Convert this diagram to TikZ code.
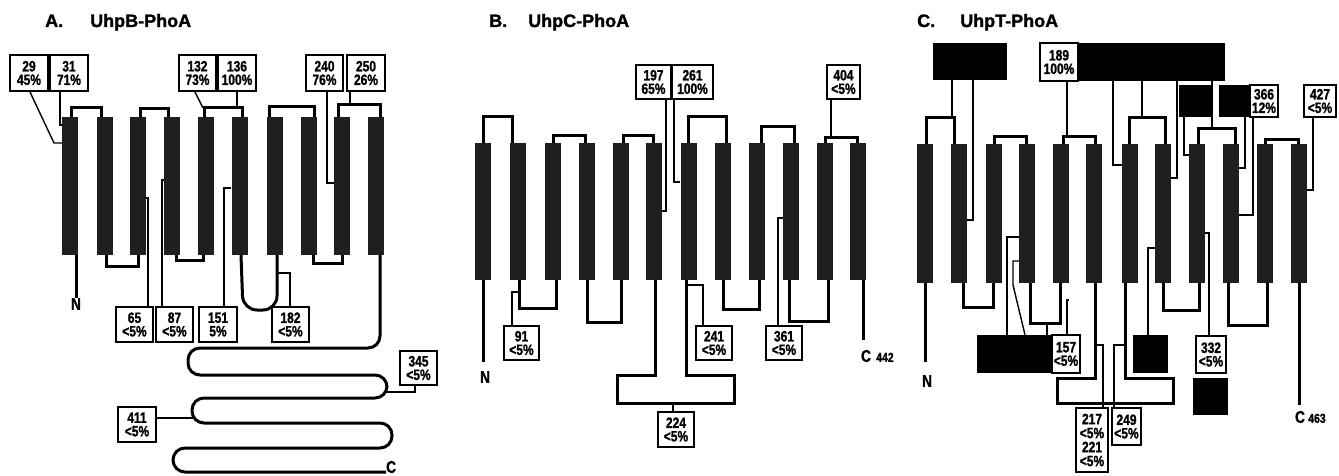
\documentclass[tikz,border=0pt]{standalone}
\usepackage{fontspec}
\setmainfont{Liberation Sans}
\newfontfamily\labfont{Liberation Sans}[FakeStretch=0.8, FakeBold=1.2]
\newfontfamily\ttlfont{Liberation Sans}[FakeBold=1.5]
\tikzset{
  helix/.style={rectangle, fill=black!88, draw=none, inner sep=0pt, minimum width=16pt},
  hA/.style={helix, minimum height=138pt},
  hB/.style={helix, minimum height=137pt},
  hC/.style={helix, minimum height=139pt},
  lp/.style={line width=3pt, line join=miter},
  ln/.style={line width=1.4pt},
  lab/.style={rectangle, draw=black, line width=1.9pt, fill=white, inner sep=0.5pt, align=center,
    font={\labfont\bfseries\fontsize{15}{13.5}\selectfont}},
  blk/.style={rectangle, fill=black, draw=none, inner sep=0pt},
  ttl/.style={inner sep=0pt, anchor=base west, font={\ttlfont\bfseries\fontsize{18}{20}\selectfont}},
  term/.style={inner sep=0pt, font={\labfont\bfseries\fontsize{17}{18}\selectfont}},
  termnum/.style={inner sep=0pt, font={\labfont\bfseries\fontsize{13}{14}\selectfont}},
}
\newcommand\labbox[6]{\node[lab, minimum width={(#4-#2)*1pt}, minimum height={(#5-#3)*1pt}] (#1) at ({(#2+#4)/2},{(#3+#5)/2}) {#6};}
\newcommand\blkbox[5]{\node[blk, minimum width={(#4-#2)*1pt}, minimum height={(#5-#3)*1pt}] (#1) at ({(#2+#4)/2},{(#3+#5)/2}) {};}
\begin{document}
\begin{tikzpicture}[x=1pt, y=-1pt]
\useasboundingbox (0,0) rectangle (1339,476);
\fill[white] (0,0) rectangle (1339,476);

% ---------------- Titles ----------------
\node[ttl] (tA1) at (45,27) {A.};
\node[ttl] (tA2) at (90,27) {UhpB-PhoA};
\node[ttl] (tB1) at (489,27) {B.};
\node[ttl] (tB2) at (528,27) {UhpC-PhoA};
\node[ttl] (tC1) at (917,27) {C.};
\node[ttl] (tC2) at (960,27) {UhpT-PhoA};

% ---------------- Panel A helices ----------------
\foreach \n/\x in {1/70,2/104.5,3/138,4/172,5/205.5,6/239.5,7/275,8/308.5,9/342,10/375.5}
  \node[hA] (a\n) at (\x,186) {};

% terminals A
\node[term] (NA) at (76,304) {N};
\node[term, anchor=west] (CA) at (386,467) {C};

% loops A
\draw[lp] (a1.north -| 71,0) |- (101,108) -- (a2.north -| 101,0);
\draw[lp] (a3.north -| 140,0) |- (168,109) -- (a4.north -| 168,0);
\draw[lp] (a5.north -| 204,0) |- (242,108) -- (a6.north -| 242,0);
\draw[lp] (a7.north -| 269,0) |- (314,107) -- (a8.north -| 314,0);
\draw[lp] (a9.north -| 338,0) |- (380,105) -- (a10.north -| 380,0);
\draw[lp] (a1.south -| 76,0) -- (NA.north -| 76,0);
\draw[lp] (a2.south -| 106,0) |- (138,266) -- (a3.south -| 138,0);
\draw[lp] (a4.south -| 176,0) |- (203,260) -- (a5.south -| 203,0);
\draw[lp, rounded corners=14pt] (a6.south -| 241,0) -- (243,310) -- (277,310) -- (a7.south -| 277,0);
\draw[lp] (a8.south -| 313,0) |- (342,263) -- (a9.south -| 342,0);
\draw[lp, rounded corners=12pt] (a10.south -| 380,0) -- (380,348) -- (188,348) -- (188,375)
  -- (387,375) -- (387,398) -- (192,398) -- (192,423) -- (392,423) -- (392,448)
  -- (173,448) -- (173,472) -- (CA.west |- 0,472);

% labels A
\labbox{L29}{10}{55}{48}{91}{29\\45\%}
\labbox{L31}{50}{55}{88}{91}{31\\71\%}
\labbox{L132}{179}{55}{216}{91}{132\\73\%}
\labbox{L136}{218}{55}{256}{91}{136\\100\%}
\labbox{L240}{306}{55}{343}{91}{240\\76\%}
\labbox{L250}{347}{55}{385}{91}{250\\26\%}
\labbox{L65}{116}{307}{153}{342}{65\\<5\%}
\labbox{L87}{156}{307}{193}{342}{87\\<5\%}
\labbox{L151}{199}{307}{237}{342}{151\\5\%}
\labbox{L182}{272}{307}{309}{342}{182\\<5\%}
\labbox{L345}{400}{351}{437}{385}{345\\<5\%}
\labbox{L411}{118}{407}{156}{442}{411\\<5\%}

% connectors A
\draw[ln] (L29.south -| 30,0) -- (54,143) -- (a1.west |- 0,143);
\draw[ln] (L31.south -| 60,0) |- (a1.west |- 0,125);
\draw[ln] (L132.south -| 195,0) -- (203,108);
\draw[ln] (L136.south -| 237,0) -- (237,108);
\draw[ln] (L240.south -| 327,0) |- (a9.west |- 0,183);
\draw[ln] (L250.south -| 350,0) -- (350,105);
\draw[ln] (a3.east |- 0,198) -| (L65.north -| 148,0);
\draw[ln] (a4.west |- 0,180) -| (L87.north -| 162,0);
\draw[ln] (a6.west |- 0,188) -| (L151.north -| 224,0);
\draw[ln] (277,273) -| (L182.north -| 290,0);
\draw[ln] (L345.south -| 415,0) |- (385,392);
\draw[ln] (L411.east |- 0,418) -- (193,418);

% ---------------- Panel B helices ----------------
\foreach \n/\x in {1/483,2/517.5,3/552.5,4/586.5,5/621,6/654,7/688.5,8/722.5,9/757,10/791,11/825,12/858}
  \node[hB] (b\n) at (\x,211.5) {};

\node[term] (NB) at (485,377) {N};
\node[term] (CB) at (866,356) {C};
\node[termnum, anchor=base west] (CBn) at ([xshift=5pt]CB.base east) {442};
\coordinate (CBend) at (863,340);

\draw[lp] (b1.north -| 483,0) |- (512,117) -- (b2.north -| 512,0);
\draw[lp] (b3.north -| 553,0) |- (585,136) -- (b4.north -| 585,0);
\draw[lp] (b5.north -| 623,0) |- (653,136) -- (b6.north -| 653,0);
\draw[lp] (b7.north -| 688,0) |- (726,117) -- (b8.north -| 726,0);
\draw[lp] (b9.north -| 761,0) |- (794,127) -- (b10.north -| 794,0);
\draw[lp] (b11.north -| 825,0) |- (857,138) -- (b12.north -| 857,0);
\draw[lp] (b1.south -| 483,0) -- (483,362);
\draw[lp] (b2.south -| 519,0) |- (556,308) -- (b3.south -| 556,0);
\draw[lp] (b4.south -| 587,0) |- (621,322) -- (b5.south -| 621,0);
\draw[lp] (b6.south -| 655,0) -- (655,375) -- (617,375) -- (617,403) -- (734,403) -- (734,375) -- (686,375) -- (b7.south -| 686,0);
\draw[lp] (b8.south -| 723,0) |- (759,309) -- (b9.south -| 759,0);
\draw[lp] (b10.south -| 789,0) |- (828,321) -- (b11.south -| 828,0);
\draw[lp] (b12.south -| 863,0) -- (CBend);

\labbox{L197}{636}{65}{671}{99}{197\\65\%}
\labbox{L261}{672}{65}{713}{99}{261\\100\%}
\labbox{L404}{827}{65}{860}{99}{404\\<5\%}
\labbox{L91}{504}{326}{539}{360}{91\\<5\%}
\labbox{L224}{658}{412}{694}{447}{224\\<5\%}
\labbox{L241}{696}{326}{732}{360}{241\\<5\%}
\labbox{L361}{766}{326}{802}{360}{361\\<5\%}

\draw[ln] (L197.south -| 666,0) |- (b6.east |- 0,211);
\draw[ln] (L261.south -| 674,0) |- (b7.west |- 0,182);
\draw[ln] (L404.south -| 831,0) -- (831,138);
\draw[ln] (L91.north -| 512,0) |- (519,292);
\draw[ln] (673,403) -- (L224.north -| 673,0);
\draw[ln] (686,285) -| (L241.north -| 703,0);
\draw[ln] (b10.west |- 0,218) -| (L361.north -| 778,0);

% ---------------- Panel C helices ----------------
\foreach \n/\x in {1/925,2/959,3/993.5,4/1027,5/1061,6/1094,7/1130,8/1163,9/1197,10/1231,11/1265,12/1298.5}
  \node[hC] (c\n) at (\x,213.5) {};

\node[term] (NC) at (927,381) {N};
\node[term] (CC) at (1300,417) {C};
\node[termnum, anchor=base west] (CCn) at ([xshift=3pt]CC.base east) {463};

% loops C
\draw[lp] (c1.north -| 926,0) |- (954,118) -- (c2.north -| 954,0);
\draw[lp] (c3.north -| 994,0) |- (1026,137) -- (c4.north -| 1026,0);
\draw[lp] (c5.north -| 1063,0) |- (1095,137) -- (c6.north -| 1095,0);
\draw[lp] (c7.north -| 1129,0) |- (1165,118) -- (c8.north -| 1165,0);
\draw[lp] (c9.north -| 1198,0) |- (1235,129) -- (c10.north -| 1235,0);
\draw[lp] (c11.north -| 1265,0) |- (1298,140) -- (c12.north -| 1298,0);
\draw[lp] (c1.south -| 925,0) -- (925,362);
\draw[lp] (c2.south -| 963,0) |- (993,307) -- (c3.south -| 993,0);
\draw[lp] (c4.south -| 1030,0) |- (1060,323) -- (c5.south -| 1060,0);
\draw[lp] (c6.south -| 1095,0) -- (1095,378) -- (1057,378) -- (1057,403) -- (1173,403) -- (1173,378) -- (1125,378) -- (c7.south -| 1125,0);
\draw[lp] (c8.south -| 1163,0) |- (1199,310) -- (c9.south -| 1199,0);
\draw[lp] (c10.south -| 1228,0) |- (1267,325) -- (c11.south -| 1267,0);
\draw[lp] (c12.south -| 1299,0) -- (1299,405);

% boxes C
\blkbox{K1}{933}{43}{968}{80}
\blkbox{K2}{968}{43}{1007}{80}
\blkbox{K3}{1078}{43}{1225}{81}
\labbox{L189}{1040}{43}{1078}{81}{189\\100\%}
\blkbox{K4}{1179}{85}{1212}{117}
\blkbox{K5}{1219}{85}{1250}{117}
\labbox{L366}{1250}{85}{1278}{117}{366\\12\%}
\labbox{L427}{1304}{85}{1336}{117}{427\\<5\%}
\blkbox{K6}{977}{335}{1052}{373}
\labbox{L157}{1052}{335}{1080}{373}{157\\<5\%}
\blkbox{K7}{1133}{335}{1168}{373}
\labbox{L332}{1196}{336}{1226}{373}{332\\<5\%}
\blkbox{K8}{1193}{378}{1228}{415}
\node[lab, font={\labfont\bfseries\fontsize{15}{14}\selectfont}, minimum width=32pt, minimum height=64pt] (L217) at (1092,440) {217\\<5\%\\221\\<5\%};
\labbox{L249}{1112}{408}{1141}{445}{249\\<5\%}

% connectors C
\draw[ln] (K1.south -| 952,0) -- (952,118);
\draw[ln] (K2.south -| 973,0) |- (c2.east |- 0,220);
\draw[ln] (L189.south -| 1067,0) -- (1067,137);
\draw[ln] (K3.south -| 1113,0) |- (c7.west |- 0,165);
\draw[ln] (K3.south -| 1142,0) -- (1142,118);
\draw[ln] (K3.south -| 1177,0) |- (c8.east |- 0,178);
\draw[ln] (K3.south -| 1212,0) -- (1212,129);
\draw[ln] (K4.south -| 1184,0) |- (c9.west |- 0,155);
\draw[ln] (K5.south -| 1245,0) |- (c10.east |- 0,168);
\draw[ln] (L366.south -| 1253,0) |- (c10.east |- 0,215);
\draw[ln] (L427.south -| 1313,0) |- (c12.east |- 0,190);
\draw[ln] (1047,323) -- (K6.north -| 1047,0);
\draw[ln] (K6.north -| 1007,0) |- (c4.west |- 0,237);
\draw[ln] (K6.north -| 1025,0) -- (1013,285) |- (c4.west |- 0,261);
\draw[ln] (c5.east |- 0,300) -| (L157.north -| 1067,0);
\draw[ln] (1095,345) -| (L217.north -| 1103,0);
\draw[ln] (1125,345) -| (L249.north -| 1114,0);
\draw[ln] (K7.north -| 1148,0) |- (c8.west |- 0,248);
\draw[ln] (c9.east |- 0,233) -| (L332.north -| 1209,0);
\end{tikzpicture}
\end{document}
